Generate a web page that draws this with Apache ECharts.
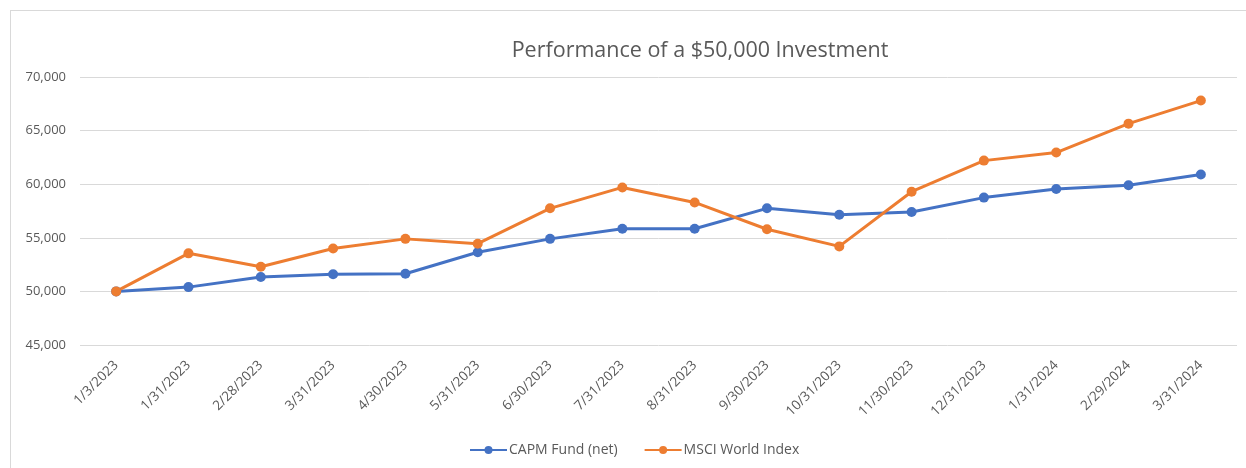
<!DOCTYPE html>
<html>
<head>
<meta charset="utf-8">
<script src="https://cdn.jsdelivr.net/npm/echarts@6/dist/echarts.min.js"></script>
<style>
    html, body { margin: 0; padding: 0; background: #fff; }
    #frame { position: absolute; left: 10px; top: 10px; width: 1240px; height: 470px; border: 1px solid #d9d9d9; box-sizing: border-box; }
    #main { position: absolute; left: 0; top: 0; width: 1246px; height: 468px; }
</style>
</head>
<body>
<div id="frame"></div>
<div id="main"></div>
<script>
const DATES = ['1/3/2023', '1/31/2023', '2/28/2023', '3/31/2023', '4/30/2023', '5/31/2023', '6/30/2023', '7/31/2023',
    '8/31/2023', '9/30/2023', '10/31/2023', '11/30/2023', '12/31/2023', '1/31/2024', '2/29/2024', '3/31/2024']

const CAPM_FUND = [50000, 50400, 51350, 51600, 51650, 53650, 54900, 55850, 55850, 57750, 57150, 57400, 58750, 59550, 59900, 60900]
const MSCI_WORLD = [50000, 53550, 52300, 54000, 54900, 54450, 57750, 59700, 58300, 55800, 54200, 59300, 62200, 62950, 65650, 67800]

const Y_MIN = 45000
const Y_MAX = 70000
const Y_STEP = 5000

const FONT = 'Open Sans'
const TEXT_COLOR = '#595959'

// 折线系列
const makeSeries = (name, data, color) => ({
    name: name,
    type: 'line',
    data: data,
    symbol: 'circle',
    symbolSize: 10,
    lineStyle: { width: 3, color: color },
    itemStyle: { color: color }
})

let myChart = echarts.init(document.getElementById('main'))

let option = {
    animation: false,
    textStyle: { fontFamily: FONT },
    title: {
        text: 'Performance of a $50,000 Investment',
        left: 695,
        textAlign: 'center',
        top: 35,
        textStyle: { fontFamily: FONT, fontSize: 21.5, fontWeight: 'normal', color: TEXT_COLOR }
    },
    legend: {
        data: ['CAPM Fund (net)', 'MSCI World Index'],
        left: 464,
        bottom: 6,
        itemWidth: 37,
        itemHeight: 10,
        itemGap: 26,
        textStyle: { fontFamily: FONT, fontSize: 14, color: TEXT_COLOR, padding: [0, 0, 0, -3] }
    },
    grid: {
        left: 80,
        right: 9,
        top: 77,
        height: 268,
        containLabel: false
    },
    xAxis: {
        type: 'category',
        boundaryGap: true,
        data: DATES,
        axisLine: { show: false },
        axisTick: { show: false },
        axisLabel: {
            rotate: 45,
            interval: 0,
            margin: 18,
            fontFamily: FONT,
            fontSize: 13.5,
            color: TEXT_COLOR
        }
    },
    yAxis: {
        type: 'value',
        min: Y_MIN,
        max: Y_MAX,
        interval: Y_STEP,
        axisLine: { show: false },
        axisTick: { show: false },
        splitLine: { lineStyle: { color: '#d9d9d9', width: 1 } },
        axisLabel: {
            margin: 14,
            fontFamily: FONT,
            fontSize: 13,
            color: TEXT_COLOR,
            formatter: v => v.toLocaleString('en-US')
        }
    },
    series: [
        makeSeries('CAPM Fund (net)', CAPM_FUND, '#4472C4'),
        makeSeries('MSCI World Index', MSCI_WORLD, '#ED7D31')
    ]
}

myChart.setOption(option)
</script>
</body>
</html>
